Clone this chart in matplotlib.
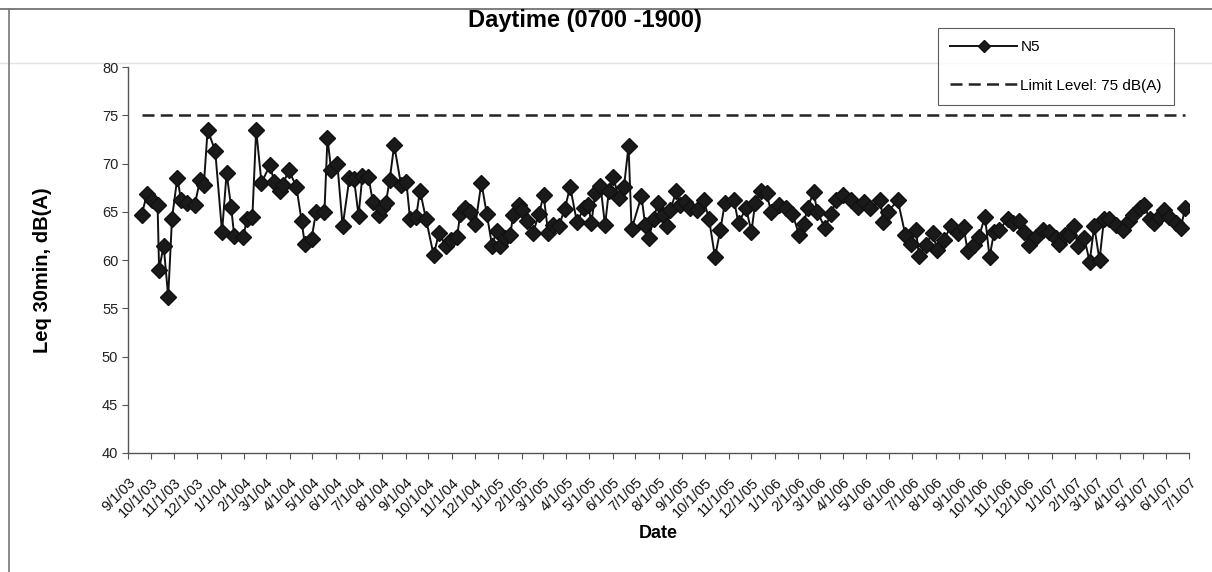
import matplotlib
matplotlib.use("Agg")
import matplotlib.pyplot as plt
import matplotlib.dates as mdates
from matplotlib.ticker import FuncFormatter, MultipleLocator
from matplotlib.lines import Line2D
import numpy as np
import pandas as pd

plt.rcParams['font.family'] = ['Liberation Sans', 'DejaVu Sans']

# ---- data ----
start_date = "2003-09-01"
# days since start of monitoring
day_offsets = [18, 25, 32, 39, 41, 47, 53, 58, 65, 70, 78, 88, 95, 100, 105, 115, 124, 130, 136, 140,
               152, 157, 164, 169, 176, 187, 193, 200, 204, 212, 222, 229, 233, 242, 248, 259, 263, 268, 276, 283,
               292, 298, 304, 309, 317, 323, 331, 335, 340, 345, 351, 360, 367, 372, 380, 385, 393, 403, 410, 419,
               426, 434, 438, 444, 451, 458, 466, 473, 480, 486, 491, 497, 504, 508, 515, 520, 526, 534, 542, 548,
               554, 561, 568, 576, 583, 592, 601, 607, 611, 616, 623, 629, 634, 640, 647, 654, 660, 664, 677, 682,
               687, 693, 699, 705, 711, 715, 723, 728, 735, 741, 750, 759, 766, 774, 781, 787, 799, 805, 815, 822,
               827, 835, 842, 848, 858, 867, 876, 885, 891, 896, 904, 909, 919, 927, 934, 943, 953, 962, 970, 979,
               992, 996, 1002, 1015, 1025, 1032, 1039, 1043, 1052, 1061, 1067, 1076, 1085, 1094, 1102, 1107, 1115, 1122, 1130, 1136,
               1142, 1149, 1160, 1167, 1175, 1182, 1188, 1197, 1206, 1214, 1223, 1228, 1235, 1241, 1248, 1252, 1261, 1268, 1274, 1281,
               1287, 1294, 1303, 1312, 1320, 1325, 1334, 1340, 1347, 1353, 1360, 1366, 1373, 1382, 1388, 1394]
n5_leq = [64.7, 66.8, 66.2, 65.7, 59.0, 61.5, 56.2, 64.3, 68.5, 66.2, 65.9, 65.7, 68.3, 67.8, 73.5, 71.3, 62.9, 69.0, 65.5, 62.5,
          62.4, 64.3, 64.5, 73.5, 68.0, 69.8, 68.1, 67.1, 67.8, 69.3, 67.6, 64.0, 61.7, 62.2, 65.0, 65.0, 72.6, 69.3, 70.0, 63.5,
          68.5, 68.4, 64.6, 68.7, 68.6, 66.0, 64.7, 65.4, 65.9, 68.3, 71.9, 67.8, 68.1, 64.2, 64.5, 67.2, 64.2, 60.5, 62.8, 61.4,
          62.1, 62.4, 64.8, 65.4, 65.0, 63.7, 68.0, 64.8, 61.5, 63.0, 61.5, 62.3, 62.6, 64.7, 65.7, 65.2, 64.0, 62.8, 64.8, 66.7,
          62.8, 63.6, 63.5, 65.3, 67.6, 63.9, 65.4, 65.7, 63.8, 66.9, 67.7, 63.6, 67.1, 68.6, 66.4, 67.6, 71.8, 63.2, 66.6, 63.6,
          62.3, 64.3, 65.9, 64.7, 63.5, 65.2, 67.1, 65.7, 66.0, 65.4, 65.2, 66.2, 64.3, 60.3, 63.1, 65.9, 66.2, 63.8, 65.4, 62.9,
          65.9, 67.1, 66.9, 65.0, 65.7, 65.4, 64.8, 62.6, 63.7, 65.4, 67.0, 65.0, 63.3, 64.8, 66.2, 66.7, 66.2, 65.5, 66.0, 65.4,
          66.2, 63.9, 65.0, 66.2, 62.6, 61.7, 63.1, 60.4, 61.6, 62.8, 61.0, 62.1, 63.5, 62.8, 63.4, 60.9, 61.6, 62.4, 64.5, 60.3,
          62.9, 63.1, 64.3, 63.8, 64.0, 62.9, 61.6, 62.4, 63.1, 62.9, 62.3, 61.7, 62.6, 62.6, 63.5, 61.4, 62.3, 59.8, 63.5, 60.0,
          64.3, 64.2, 63.6, 63.1, 64.0, 64.7, 65.4, 65.7, 64.2, 63.8, 64.5, 65.2, 64.5, 63.8, 63.3, 65.4]
limit_level = 75
series_label = "N5"
limit_label = "Limit Level: 75 dB(A)"
title_text = "Daytime (0700 -1900)"
y_label = "Leq 30min, dB(A)"
x_label = "Date"
x_axis_start = "2003-09-01"
x_axis_end = "2007-07-01"

dates = pd.to_datetime(start_date) + pd.to_timedelta(day_offsets, unit="D")

# ---- figure ----
W, H = 1212, 572
fig = plt.figure(figsize=(W / 100, H / 100), dpi=100)
fig.patch.set_facecolor("white")

L, R, T, B = 128, 1189, 67, 453
ax = fig.add_axes([L / W, 1 - B / H, (R - L) / W, (B - T) / H])

ax.plot(dates, n5_leq, color="#111111", lw=1.4, marker="D", markersize=8,
        markerfacecolor="#1a1a1a", markeredgecolor="#111111", zorder=3)
lim_line, = ax.plot([dates[0], dates[-1]], [limit_level, limit_level], color="#222222", lw=1.8,
                    zorder=2)
lim_line.set_dashes((4.8, 2.5))

ax.set_xlim(pd.Timestamp(x_axis_start), pd.Timestamp(x_axis_end))
ax.set_ylim(40, 80)
ax.yaxis.set_major_locator(MultipleLocator(5))
ax.xaxis.set_major_locator(mdates.MonthLocator(bymonthday=1))
ax.xaxis.set_major_formatter(FuncFormatter(
    lambda v, p: (lambda d: f"{d.month}/{d.day}/{d.strftime('%y')}")(mdates.num2date(v))))

for s in ["top", "right"]:
    ax.spines[s].set_visible(False)
for s in ["left", "bottom"]:
    ax.spines[s].set_color("#555555")
    ax.spines[s].set_linewidth(1.0)

ax.tick_params(axis="y", direction="out", length=4, width=0.8, color="#555555",
               labelsize=10.5, labelcolor="#222222", pad=3)
ax.tick_params(axis="x", direction="out", length=4, width=0.8, color="#555555",
               labelsize=10.5, labelcolor="#111111", pad=12)
for lbl in ax.get_xticklabels():
    lbl.set_rotation(45)
    lbl.set_ha("right")
    lbl.set_rotation_mode("anchor")

fig.text(42 / W, 1 - 270 / H, y_label, ha="center", va="center", rotation=90,
         fontsize=14.5, fontweight="bold")
fig.text(658 / W, 1 - 533 / H, x_label, ha="center", va="center", fontsize=13, fontweight="bold")
fig.text(585 / W, 1 - 20 / H, title_text, ha="center", va="center", fontsize=17, fontweight="bold")

handles = [Line2D([], [], color="#111111", lw=1.4, marker="D", markersize=6,
                  markerfacecolor="#1a1a1a"),
           Line2D([], [], color="#222222", lw=1.8, dashes=(4.8, 2.5))]
leg = fig.legend(handles, [series_label, limit_label], loc="upper right",
                 bbox_to_anchor=(1174 / W, 1 - 28 / H), bbox_transform=fig.transFigure,
                 fontsize=11, frameon=True, fancybox=False, edgecolor="#333333",
                 handlelength=4.4, labelspacing=1.6, borderpad=0.8, borderaxespad=0,
                 handletextpad=0.2)
leg.get_frame().set_linewidth(0.8)

# page frame lines from the scanned document
fig.add_artist(Line2D([0, 1], [1 - 9 / H, 1 - 9 / H], transform=fig.transFigure,
                      color="#666666", lw=1.2))
fig.add_artist(Line2D([9 / W, 9 / W], [0, 1 - 9 / H], transform=fig.transFigure,
                      color="#777777", lw=1.2))
fig.add_artist(Line2D([0, 1], [1 - 63 / H, 1 - 63 / H], transform=fig.transFigure,
                      color="#e2e2e2", lw=1.0, zorder=0))

fig.savefig("out.png", dpi=100, facecolor="white")
